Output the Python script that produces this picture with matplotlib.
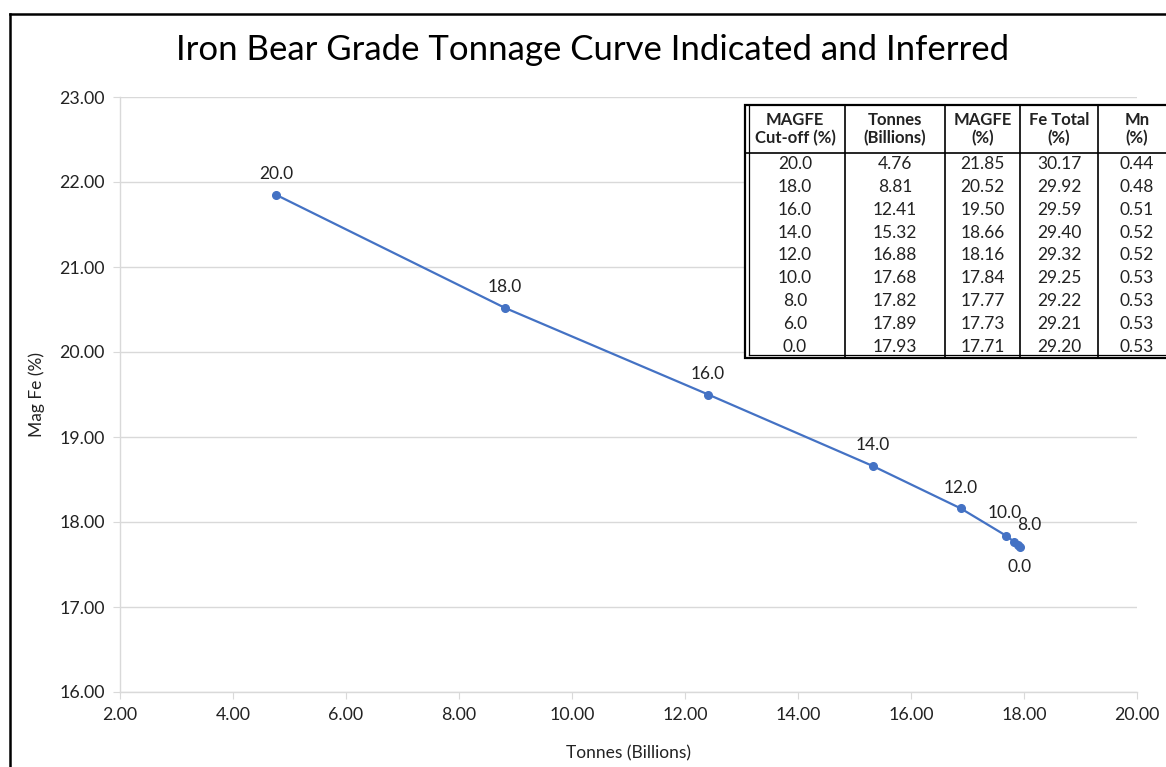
import matplotlib.pyplot as plt
from matplotlib.lines import Line2D
from matplotlib.patches import Rectangle

plt.rcParams['font.family'] = ['Lato', 'DejaVu Sans']

# Grade tonnage data (cut-off, tonnes, MAGFE, Fe total, Mn)
cutoff = ['20.0', '18.0', '16.0', '14.0', '12.0', '10.0', '8.0', '6.0', '0.0']
tonnes = [4.76, 8.81, 12.41, 15.32, 16.88, 17.68, 17.82, 17.89, 17.93]
magfe = [21.85, 20.52, 19.50, 18.66, 18.16, 17.84, 17.77, 17.73, 17.71]
fe_total = [30.17, 29.92, 29.59, 29.40, 29.32, 29.25, 29.22, 29.21, 29.20]
mn = [0.44, 0.48, 0.51, 0.52, 0.52, 0.53, 0.53, 0.53, 0.53]

headers = ['MAGFE\nCut-off (%)', 'Tonnes\n(Billions)', 'MAGFE\n(%)', 'Fe Total\n(%)', 'Mn\n(%)']

x_ticks = [2, 4, 6, 8, 10, 12, 14, 16, 18, 20]
y_ticks = [16, 17, 18, 19, 20, 21, 22, 23]

W, H = 1166, 767


def fx(x):
    return x / W


def fy(y):
    return 1 - y / H


fig = plt.figure(figsize=(11.66, 7.67), dpi=100)
ax = fig.add_axes([fx(120), fy(692), (1137 - 120) / W, (692 - 97) / H])

blue = '#4472C4'
grey = '#d9d9d9'
txt = '#222222'

ax.plot(tonnes, magfe, color=blue, lw=1.6, marker='o', markersize=5.5, zorder=3)

# data labels (6.0 is hidden in the original)
offsets = {'20.0': (0, 15), '18.0': (0, 15), '16.0': (0, 15), '14.0': (0, 15),
           '12.0': (0, 15), '10.0': (-1, 16), '8.0': (11, 12), '0.0': (0, -15)}
for lab, x, y in zip(cutoff, tonnes, magfe):
    if lab not in offsets:
        continue
    ax.annotate(lab, (x, y), xytext=offsets[lab], textcoords='offset points',
                ha='center', va='center', fontsize=12.5, color=txt)

ax.set_xlim(2, 20)
ax.set_ylim(16, 23)
ax.set_xticks(x_ticks)
ax.set_yticks(y_ticks)
ax.set_xticklabels([f'{v:.2f}' for v in x_ticks])
ax.set_yticklabels([f'{v:.2f}' for v in y_ticks])
ax.tick_params(axis='both', direction='out', length=5, color=grey, labelsize=12.8,
               labelcolor=txt)
ax.tick_params(axis='x', pad=6)
ax.tick_params(axis='y', pad=6)
ax.grid(axis='y', color=grey, lw=1)
ax.set_axisbelow(True)
for s in ['top', 'right']:
    ax.spines[s].set_visible(False)
for s in ['left', 'bottom']:
    ax.spines[s].set_color(grey)
    ax.spines[s].set_linewidth(1)

ax.set_xlabel('Tonnes (Billions)', fontsize=12.5, color=txt)
ax.set_ylabel('Mag Fe (%)', fontsize=12.5, color=txt)
ax.xaxis.set_label_coords(0.5, -0.089)
ax.yaxis.set_label_coords(-0.074, 0.5)

fig.text(fx(593), fy(50), 'Iron Bear Grade Tonnage Curve Indicated and Inferred',
         ha='center', va='center', fontsize=25, color='black')

# outer frame (left and top only visible)
fig.add_artist(Line2D([fx(10), fx(10)], [0, fy(14)], color='black', lw=1.8))
fig.add_artist(Line2D([fx(10), 1], [fy(14), fy(14)], color='black', lw=1.8))

# table
col_edges = [745, 845, 945, 1020, 1098, 1178]
top, head_bot = 105, 153
row_h = (358 - head_bot) / len(cutoff)
bottom = head_bot + row_h * len(cutoff)

fig.add_artist(Rectangle((fx(col_edges[0]), fy(bottom)),
                         (col_edges[-1] - col_edges[0]) / W, (bottom - top) / H,
                         facecolor='white', edgecolor='black', lw=1.6, zorder=5))
# double line on left and bottom
fig.add_artist(Line2D([fx(749), fx(749)], [fy(bottom - 3), fy(top)], color='black', lw=0.9, zorder=6))
fig.add_artist(Line2D([fx(749), 1], [fy(bottom - 3), fy(bottom - 3)], color='black', lw=0.9, zorder=6))
for xe in col_edges[1:-1]:
    fig.add_artist(Line2D([fx(xe), fx(xe)], [fy(bottom), fy(top)], color='black', lw=1.2, zorder=6))
fig.add_artist(Line2D([fx(col_edges[0]), 1], [fy(head_bot), fy(head_bot)], color='black', lw=1.2, zorder=6))

centers = [(col_edges[i] + col_edges[i + 1]) / 2 for i in range(5)]
centers[-1] = 1137
for c, h in zip(centers, headers):
    fig.text(fx(c), fy((top + head_bot) / 2), h, ha='center', va='center',
             fontsize=12, fontweight='bold', linespacing=1.2, color=txt, zorder=7)

rows = zip(cutoff, tonnes, magfe, fe_total, mn)
for i, (c0, t, m, f, n) in enumerate(rows):
    yc = head_bot + row_h * (i + 0.5)
    vals = [c0, f'{t:.2f}', f'{m:.2f}', f'{f:.2f}', f'{n:.2f}']
    for c, v in zip(centers, vals):
        fig.text(fx(c), fy(yc), v, ha='center', va='center', fontsize=12.5,
                 color=txt, zorder=7)

fig.savefig('out.png', dpi=100)
